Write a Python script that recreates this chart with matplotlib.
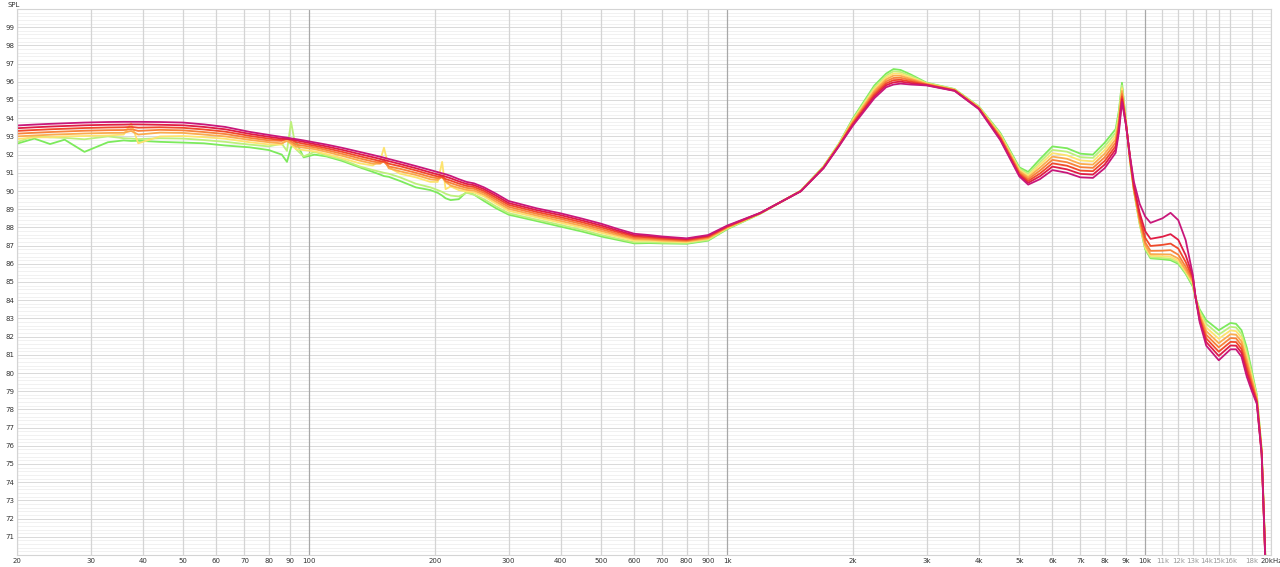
import numpy as np
import matplotlib
matplotlib.use("Agg")
import matplotlib.pyplot as plt
from matplotlib.ticker import FixedLocator, NullFormatter

# frequency grid (Hz) shared by all curves
freq = [20, 22, 24, 26, 29, 33, 36, 37.5, 39, 44, 50, 56, 63, 72, 80, 86, 88.5, 90.5, 93, 97,
        103, 110, 120, 132, 142, 148, 151, 155, 165, 180, 195, 203, 208, 212, 218, 228, 238, 248,
        262, 280, 300,
        350, 400, 450, 500, 550, 600, 650, 700, 800, 900, 1000, 1200, 1500, 1700, 1850, 2000, 2250,
        2400, 2500, 2600, 2750, 3000, 3500, 4000, 4500, 5000, 5250, 5600, 6000, 6500, 7000, 7500, 8000,
        8500, 8650, 8800, 9000, 9200, 9400, 9700, 10000, 10300, 11000, 11500, 12000, 12500,
        13000, 13200, 13500, 14000, 15000, 16000, 16500, 17000, 17500, 18000, 18500, 19000, 19300, 19600]

# SPL of each curve (dB)
spl_1 = [93.60, 93.65, 93.69, 93.72, 93.76, 93.79, 93.80, 93.80, 93.80, 93.79, 93.76, 93.66, 93.52, 93.25, 93.08, 92.97, 92.93, 92.89, 92.85, 92.78,
         92.67, 92.55, 92.37, 92.15, 91.98, 91.88, 91.83, 91.76, 91.60, 91.37, 91.15, 91.04, 90.97, 90.92, 90.83, 90.65, 90.50, 90.42,
         90.20, 89.85, 89.45,
         89.05, 88.77, 88.48, 88.20, 87.90, 87.65, 87.58, 87.50, 87.40, 87.58, 88.10, 88.80, 89.98, 91.25, 92.45, 93.60, 95.10,
         95.70, 95.85, 95.90, 95.85, 95.80, 95.50, 94.50, 92.80, 90.80, 90.35, 90.65, 91.15, 91.00, 90.75, 90.72, 91.25,
         92.10, 93.20, 94.90, 93.60, 91.90, 90.50, 89.30, 88.60, 88.25, 88.50, 88.80, 88.40, 87.30,
         85.40, 84.15, 82.80, 81.50, 80.70, 81.30, 81.30, 80.90, 79.80, 79.00, 78.30, 75.50, 71.00, 66.00]
spl_2 = [93.45, 93.50, 93.54, 93.57, 93.61, 93.64, 93.65, 93.66, 93.66, 93.64, 93.61, 93.52, 93.39, 93.14, 92.98, 92.88, 92.86, 92.84, 92.78, 92.70,
         92.58, 92.45, 92.26, 92.03, 91.86, 91.76, 91.71, 91.64, 91.48, 91.25, 91.02, 90.91, 90.85, 90.79, 90.70, 90.53, 90.39, 90.32,
         90.10, 89.74, 89.34,
         88.95, 88.67, 88.38, 88.10, 87.81, 87.57, 87.52, 87.45, 87.36, 87.54, 88.07, 88.79, 89.99, 91.26, 92.47, 93.66, 95.20,
         95.81, 95.97, 96.01, 95.93, 95.82, 95.51, 94.52, 92.86, 90.87, 90.45, 90.81, 91.34, 91.19, 90.94, 90.90, 91.45,
         92.29, 93.37, 95.05, 93.63, 91.86, 90.28, 88.81, 87.79, 87.37, 87.49, 87.63, 87.32, 86.47,
         85.31, 84.15, 82.90, 81.70, 80.94, 81.51, 81.50, 81.11, 80.03, 79.16, 78.37, 75.54, 71.04, 66.07]
spl_3 = [93.30, 93.35, 93.39, 93.42, 93.46, 93.49, 93.50, 93.52, 93.48, 93.50, 93.47, 93.38, 93.26, 93.03, 92.88, 92.80, 92.85, 92.82, 92.68, 92.60,
         92.49, 92.35, 92.15, 91.91, 91.74, 91.64, 91.62, 91.50, 91.36, 91.13, 90.90, 90.80, 90.78, 90.66, 90.57, 90.41, 90.28, 90.22,
         90.00, 89.63, 89.24,
         88.85, 88.56, 88.28, 88.00, 87.73, 87.50, 87.45, 87.39, 87.31, 87.49, 88.04, 88.79, 89.99, 91.28, 92.49, 93.71, 95.30,
         95.91, 96.09, 96.11, 96.01, 95.84, 95.53, 94.54, 92.91, 90.94, 90.55, 90.96, 91.52, 91.39, 91.12, 91.09, 91.65,
         92.47, 93.54, 95.20, 93.66, 91.81, 90.18, 88.59, 87.43, 86.98, 87.04, 87.11, 86.84, 86.10,
         85.21, 84.15, 83.00, 81.90, 81.17, 81.71, 81.70, 81.31, 80.26, 79.31, 78.44, 75.59, 71.09, 66.14]
spl_4 = [93.15, 93.20, 93.24, 93.27, 93.31, 93.34, 93.35, 93.40, 93.30, 93.36, 93.33, 93.24, 93.13, 92.92, 92.78, 92.75, 92.90, 92.72, 92.55, 92.49,
         92.40, 92.25, 92.04, 91.79, 91.62, 91.55, 91.60, 91.35, 91.22, 91.00, 90.77, 90.70, 90.75, 90.55, 90.44, 90.29, 90.17, 90.12,
         89.90, 89.52, 89.13,
         88.75, 88.46, 88.18, 87.90, 87.64, 87.42, 87.39, 87.34, 87.27, 87.45, 88.01, 88.78, 90.00, 91.29, 92.51, 93.77, 95.40,
         96.02, 96.21, 96.22, 96.09, 95.86, 95.54, 94.56, 92.97, 91.01, 90.65, 91.12, 91.71, 91.58, 91.31, 91.27, 91.85,
         92.66, 93.71, 95.35, 93.69, 91.77, 90.11, 88.43, 87.18, 86.71, 86.72, 86.75, 86.50, 85.84,
         85.12, 84.15, 83.10, 82.10, 81.41, 81.92, 81.90, 81.52, 80.49, 79.47, 78.51, 75.63, 71.13, 66.21]
spl_5 = [93.00, 93.05, 93.09, 93.12, 93.16, 93.19, 93.20, 93.30, 93.10, 93.21, 93.19, 93.10, 93.00, 92.81, 92.68, 92.62, 92.75, 92.62, 92.44, 92.38,
         92.30, 92.15, 91.93, 91.67, 91.50, 91.50, 91.75, 91.25, 91.08, 90.88, 90.64, 90.60, 90.80, 90.50, 90.30, 90.17, 90.06, 90.02,
         89.80, 89.41, 89.02,
         88.65, 88.35, 88.08, 87.80, 87.56, 87.35, 87.33, 87.28, 87.23, 87.40, 87.99, 88.77, 90.00, 91.31, 92.54, 93.83, 95.50,
         96.13, 96.34, 96.33, 96.16, 95.89, 95.56, 94.59, 93.03, 91.09, 90.75, 91.28, 91.89, 91.77, 91.49, 91.45, 92.05,
         92.84, 93.89, 95.50, 93.71, 91.73, 90.06, 88.33, 87.02, 86.53, 86.52, 86.51, 86.29, 85.67,
         85.03, 84.15, 83.20, 82.30, 81.64, 82.13, 82.10, 81.73, 80.71, 79.63, 78.59, 75.67, 71.17, 66.29]
spl_6 = [92.85, 92.95, 92.95, 93.00, 93.02, 93.05, 93.10, 93.72, 92.62, 93.00, 93.02, 92.96, 92.87, 92.68, 92.56, 92.55, 92.90, 92.55, 92.30, 92.25,
         92.18, 92.03, 91.80, 91.52, 91.40, 91.70, 92.38, 91.30, 90.95, 90.75, 90.50, 90.50, 91.60, 90.10, 90.25, 90.05, 89.97, 89.92,
         89.70, 89.30, 88.91,
         88.55, 88.25, 87.98, 87.70, 87.47, 87.27, 87.27, 87.23, 87.19, 87.36, 87.96, 88.77, 90.01, 91.32, 92.56, 93.89, 95.60,
         96.24, 96.46, 96.44, 96.24, 95.91, 95.57, 94.61, 93.09, 91.16, 90.85, 91.44, 92.08, 91.96, 91.68, 91.63, 92.25,
         93.03, 94.06, 95.65, 93.74, 91.69, 90.04, 88.28, 86.93, 86.44, 86.41, 86.38, 86.17, 85.58,
         84.94, 84.15, 83.30, 82.50, 81.88, 82.34, 82.30, 81.94, 80.94, 79.79, 78.66, 75.71, 71.21, 66.36]
spl_7 = [92.68, 93.02, 92.95, 92.92, 92.84, 93.00, 92.90, 92.88, 92.85, 92.90, 92.88, 92.80, 92.70, 92.55, 92.45, 92.60, 92.20, 93.80, 92.30, 91.90,
         92.15, 91.95, 91.72, 91.35, 91.15, 91.05, 91.00, 90.95, 90.75, 90.40, 90.20, 90.05, 89.95, 89.85, 89.75, 89.70, 89.90, 89.80,
         89.55, 89.15, 88.78,
         88.43, 88.13, 87.86, 87.58, 87.37, 87.18, 87.19, 87.16, 87.14, 87.31, 87.93, 88.76, 90.01, 91.34, 92.58, 93.94, 95.70,
         96.34, 96.58, 96.54, 96.32, 95.93, 95.59, 94.63, 93.14, 91.23, 90.95, 91.59, 92.26, 92.16, 91.86, 91.82, 92.45,
         93.21, 94.23, 95.80, 93.77, 91.64, 90.02, 88.23, 86.85, 86.36, 86.32, 86.28, 86.07, 85.51,
         84.84, 84.15, 83.40, 82.70, 82.11, 82.54, 82.50, 82.14, 81.17, 79.94, 78.73, 75.76, 71.26, 66.43]
spl_8 = [92.60, 92.88, 92.58, 92.82, 92.15, 92.68, 92.78, 92.75, 92.76, 92.70, 92.66, 92.62, 92.50, 92.40, 92.25, 92.00, 91.60, 92.40, 92.70, 91.85,
         92.00, 91.90, 91.65, 91.30, 91.05, 90.90, 90.82, 90.78, 90.55, 90.20, 90.05, 89.90, 89.75, 89.60, 89.50, 89.55, 89.95, 89.80,
         89.45, 89.05, 88.70,
         88.35, 88.04, 87.77, 87.50, 87.30, 87.12, 87.14, 87.12, 87.10, 87.27, 87.90, 88.75, 90.02, 91.35, 92.60, 94.00, 95.80,
         96.45, 96.70, 96.65, 96.40, 95.95, 95.60, 94.65, 93.20, 91.30, 91.05, 91.75, 92.45, 92.35, 92.05, 92.00, 92.65,
         93.40, 94.40, 95.95, 93.80, 91.60, 90.00, 88.20, 86.80, 86.30, 86.25, 86.20, 86.00, 85.45,
         84.75, 84.15, 83.50, 82.90, 82.35, 82.75, 82.70, 82.35, 81.40, 80.10, 78.80, 75.80, 71.30, 66.50]

series = [spl_1, spl_2, spl_3, spl_4, spl_5, spl_6, spl_7, spl_8]
colors = ['#c8177a', '#e01d45', '#f04a2b', '#f7823a', '#fbab4e', '#fde36f', '#bdf07c', '#7cea5c']

# axis ticks
xticks = [20, 30, 40, 50, 60, 70, 80, 90, 100, 200, 300, 400, 500, 600, 700, 800, 900,
          1000, 2000, 3000, 4000, 5000, 6000, 7000, 8000, 9000, 10000,
          11000, 12000, 13000, 14000, 15000, 16000, 18000, 20000]
xlabels = ['20', '30', '40', '50', '60', '70', '80', '90', '100', '200', '300', '400', '500',
           '600', '700', '800', '900', '1k', '2k', '3k', '4k', '5k', '6k', '7k', '8k', '9k', '10k',
           '11k', '12k', '13k', '14k', '15k', '16k', '18k', '20kHz']
yticks = list(range(71, 100))

fig = plt.figure(figsize=(12.8, 5.67), dpi=100)
ax = fig.add_axes([17 / 1280, 12 / 567, 1254 / 1280, 546 / 567])
ax.set_xscale('log')
ax.set_xlim(20, 20000)
ax.set_ylim(70, 100)

# grid
for y in np.arange(70, 100.01, 0.2):
    ax.axhline(y, color='#efefef', lw=0.6, zorder=0)
for y in range(70, 101):
    ax.axhline(y, color='#dadada', lw=0.7, zorder=0)
for f in xticks:
    c = '#a8a8a8' if f in (100, 1000, 10000) else '#d4d4d4'
    ax.axvline(f, color=c, lw=0.9, zorder=0)

for s, c in reversed(list(zip(series, colors))):
    ax.plot(freq, s, color=c, lw=1.3, zorder=2, solid_joinstyle='round')

ax.xaxis.set_major_locator(FixedLocator(xticks))
ax.xaxis.set_minor_formatter(NullFormatter())
ax.xaxis.set_minor_locator(FixedLocator([]))
ax.set_xticks(xticks)
ax.set_xticklabels(xlabels)
for f, lab in zip(xticks, ax.get_xticklabels()):
    if 10000 < f < 20000:
        lab.set_color('#9a9a9a')
    else:
        lab.set_color('#333333')
ax.set_yticks(yticks)
ax.set_yticklabels([str(v) for v in yticks], color='#333333')
ax.tick_params(axis='both', length=0, labelsize=5, pad=2)
for sp in ax.spines.values():
    sp.set_color('#d4d4d4')
    sp.set_linewidth(0.8)

fig.text(7 / 1280, 1 - 5 / 567, 'SPL', fontsize=5, color='#333333', va='center', ha='left')

fig.savefig('out.png', dpi=100, facecolor='white')
